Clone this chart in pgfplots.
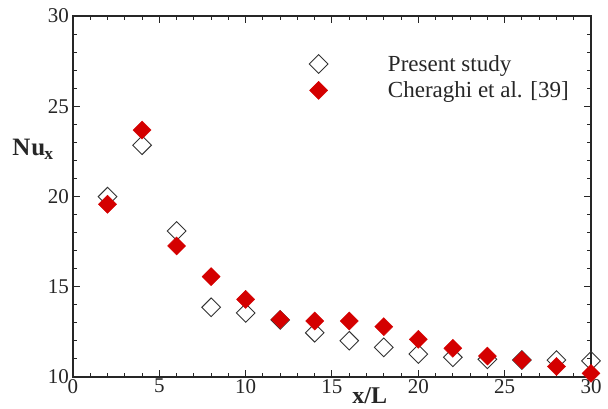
\documentclass[border=0pt]{standalone}
\usepackage{pgfplots}
\pgfplotsset{compat=1.18}
\usepackage{fontspec}
\setmainfont{Liberation Serif}
\definecolor{mred}{RGB}{212,0,0}
\pgfplotstableread{
x y
2 19.99
4 22.84
6 18.09
8 13.86
10 13.55
12 13.16
14 12.45
16 12.01
18 11.64
20 11.27
22 11.09
24 10.98
26 10.94
28 10.94
30 10.89
}\present
\pgfplotstableread{
x y
2 19.57
4 23.68
6 17.26
8 15.56
10 14.30
12 13.18
14 13.10
16 13.10
18 12.79
20 12.09
22 11.59
24 11.16
26 10.94
28 10.58
30 10.20
}\cheraghi
\begin{document}
\begin{tikzpicture}
\useasboundingbox (-73pt,-32pt) rectangle (535pt,377pt);
\begin{axis}[
  at={(0pt,0pt)}, anchor=south west,
  scale only axis, width=518pt, height=361pt,
  xmin=0, xmax=30, ymin=10, ymax=30,
  xtick={0,5,...,30}, ytick={10,15,...,30},
  minor x tick num=4, minor y tick num=4,
  tick align=inside,
  major tick length=7pt, minor tick length=4pt,
  axis line style={line width=1.3pt, black!85},
  every tick/.style={line width=1pt, black!85},
  /pgf/number format/assume math mode=true,
  tick label style={font=\fontsize{21}{24}\selectfont, text=black!85},
  xticklabel style={inner sep=1pt, yshift=-1pt},
  yticklabel style={inner sep=1pt, xshift=-3pt},
  clip=false,
  legend style={draw=none, fill=none, at={(rel axis cs:0.45,0.903)}, anchor=north west,
    font=\fontsize{23}{25}\selectfont, text=black!85, column sep=58pt, row sep=5pt},
  legend cell align=left,
  legend image code/.code={\draw[mark repeat=2, mark phase=2, #1] plot coordinates {(0pt,0pt) (13pt,0pt) (26pt,0pt)};},
]
\addplot[only marks, mark=square, mark size=6.6pt, mark options={rotate=45, draw=black!80, line width=0.9pt, fill=white}] table[x=x,y=y] {\present};
\addlegendentry{Present study}
\addplot[only marks, mark=square*, mark size=6.4pt, mark options={rotate=45, draw=mred, fill=mred, line width=0.4pt}] table[x=x,y=y] {\cheraghi};
\addlegendentry{Cheraghi et al. [39]}
\node[font=\fontsize{25}{28}\selectfont\bfseries, text=black!85] at (rel axis cs:0,0.63) [xshift=-40pt] {N\kern1pt u\textsubscript{\kern-1pt x}};
\node[font=\fontsize{24}{26}\selectfont\bfseries, text=black!85, anchor=north, inner sep=0pt] at (rel axis cs:0.573,0) [yshift=-10pt] {x/L};
\end{axis}
\end{tikzpicture}
\end{document}
